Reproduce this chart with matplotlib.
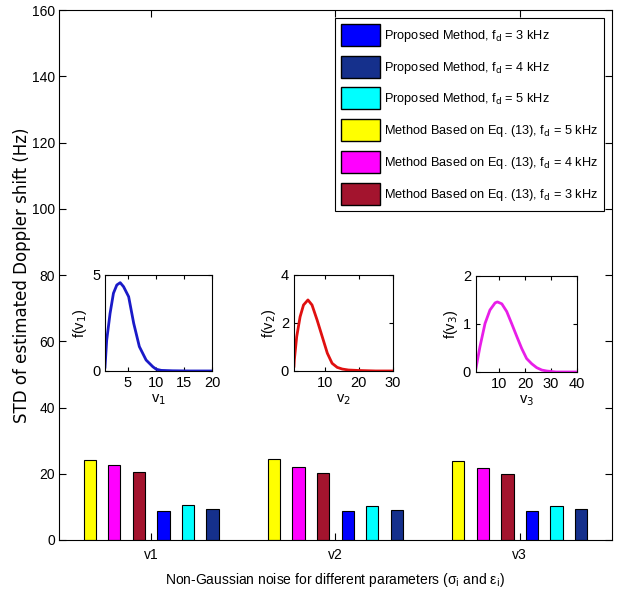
import numpy as np
import matplotlib
matplotlib.use('Agg')
import matplotlib.pyplot as plt
from matplotlib.patches import Patch

# 字体设置
plt.rcParams['font.family'] = ['Liberation Sans Narrow', 'Liberation Sans', 'DejaVu Sans']
plt.rcParams['mathtext.fontset'] = 'custom'
plt.rcParams['mathtext.rm'] = 'Liberation Sans Narrow'
plt.rcParams['mathtext.it'] = 'Liberation Sans Narrow'
plt.rcParams['font.size'] = 10

# 柱状图数据
groups = ['v1', 'v2', 'v3']
eq13_5k = [24.3, 24.6, 23.8]
eq13_4k = [22.7, 22.0, 21.6]
eq13_3k = [20.5, 20.1, 20.0]
prop_3k = [8.7, 8.7, 8.8]
prop_5k = [10.6, 10.2, 10.2]
prop_4k = [9.4, 9.2, 9.4]

# 小图曲线数据
x_v1 = [1.0, 1.1, 1.3, 1.9, 2.5, 3.1, 3.7, 4.3, 5.2, 6.1, 7.1, 8.3, 9.5, 10.1, 11, 13, 16, 20]
y_v1 = [0.2, 0.66, 1.6, 3.0, 4.05, 4.48, 4.6, 4.39, 3.87, 2.48, 1.27, 0.57, 0.22, 0.09, 0.03, 0.01, 0.0, 0.0]
x_v2 = [1.0, 1.1, 1.8, 2.8, 3.8, 5.1, 6.3, 7.8, 9.3, 10.8, 12.2, 13.7, 15.2, 17, 20, 25, 30]
y_v2 = [0.2, 0.46, 1.43, 2.26, 2.75, 2.96, 2.75, 2.12, 1.43, 0.74, 0.32, 0.15, 0.08, 0.04, 0.02, 0.0, 0.0]
x_v3 = [1.0, 2.55, 4.5, 6.4, 8.4, 9.3, 11, 12.9, 14.8, 16.8, 18.7, 20.6, 22.6, 24.5, 26.5, 28.4, 32, 40]
y_v3 = [0.08, 0.53, 1.01, 1.29, 1.44, 1.46, 1.42, 1.26, 1.01, 0.74, 0.49, 0.28, 0.17, 0.09, 0.04, 0.02, 0.0, 0.0]

c_yellow = '#ffff00'
c_magenta = '#ff00ff'
c_darkred = '#a3142e'
c_blue = '#0000ff'
c_cyan = '#00ffff'
c_navy = '#15308c'

fig = plt.figure(figsize=(6.18, 5.91), dpi=100)
ax = fig.add_axes([0.0955, 0.0863, 0.8945, 0.8967])

x = np.arange(1, len(groups) + 1)
series = [(eq13_5k, c_yellow), (eq13_4k, c_magenta), (eq13_3k, c_darkred),
          (prop_3k, c_blue), (prop_5k, c_cyan), (prop_4k, c_navy)]
slot = 0.8 / 6
for k, (vals, col) in enumerate(series):
    ax.bar(x + (k - 2.5) * slot, vals, width=slot * 0.5, color=col,
           edgecolor='black', linewidth=0.8)

ax.set_xlim(0.5, 3.5)
ax.set_ylim(0, 160)
ax.set_yticks(np.arange(0, 161, 20))
ax.set_xticks(x)
ax.set_xticklabels(groups)
ax.tick_params(direction='in', top=True, right=True, length=5, width=0.8)
ax.tick_params(axis='x', pad=6)
ax.tick_params(axis='y', pad=3)
ax.set_ylabel('STD of estimated Doppler shift (Hz)',
              family=['DejaVu Sans'], fontsize=12)
ax.yaxis.set_label_coords(-0.05, 0.5)
ax.set_xlabel('Non-Gaussian noise for different parameters (σ$_i$ and ε$_i$)', labelpad=6)

handles = [Patch(facecolor=c_blue, edgecolor='black'),
           Patch(facecolor=c_navy, edgecolor='black'),
           Patch(facecolor=c_cyan, edgecolor='black'),
           Patch(facecolor=c_yellow, edgecolor='black'),
           Patch(facecolor=c_magenta, edgecolor='black'),
           Patch(facecolor=c_darkred, edgecolor='black')]
labels = ['Proposed Method, f$_d$ = 3 kHz',
          'Proposed Method, f$_d$ = 4 kHz',
          'Proposed Method, f$_d$ = 5 kHz',
          'Method Based on Eq. (13), f$_d$ = 5 kHz',
          'Method Based on Eq. (13), f$_d$ = 4 kHz',
          'Method Based on Eq. (13), f$_d$ = 3 kHz']
leg = ax.legend(handles, labels, loc='upper right', fancybox=False,
                edgecolor='black', framealpha=1, handlelength=3.05,
                handleheight=2.27, labelspacing=0.76, handletextpad=0.3,
                borderpad=0.5, borderaxespad=0.6, fontsize=9.2)
leg.get_frame().set_linewidth(0.8)

# 三个小图
insets = [
    ([0.1699, 0.3723, 0.1731, 0.1624], x_v1, y_v1, '#1a1ac8', (1, 20), [5, 10, 15, 20], (0, 5), [0, 5], '1'),
    ([0.4757, 0.3723, 0.1597, 0.1624], x_v2, y_v2, '#e01010', (1, 30), [10, 20, 30], (0, 4), [0, 2, 4], '2'),
    ([0.7702, 0.3706, 0.1630, 0.1624], x_v3, y_v3, '#e81ee8', (1, 40), [10, 20, 30, 40], (0, 2), [0, 1, 2], '3'),
]
for pos, xs, ys, col, xl, xt, yl, yt, idx in insets:
    ia = fig.add_axes(pos)
    ia.plot(xs, ys, color=col, linewidth=2)
    ia.set_xlim(*xl)
    ia.set_ylim(*yl)
    ia.set_xticks(xt)
    ia.set_yticks(yt)
    ia.tick_params(direction='in', top=True, right=True, length=3, width=0.8, labelsize=10.5)
    ia.set_xlabel('v$_%s$' % idx, labelpad=2, fontsize=10.5)
    ia.set_ylabel('f(v$_%s$)' % idx, labelpad=2, fontsize=10.5)

plt.savefig('out.png', dpi=100)
